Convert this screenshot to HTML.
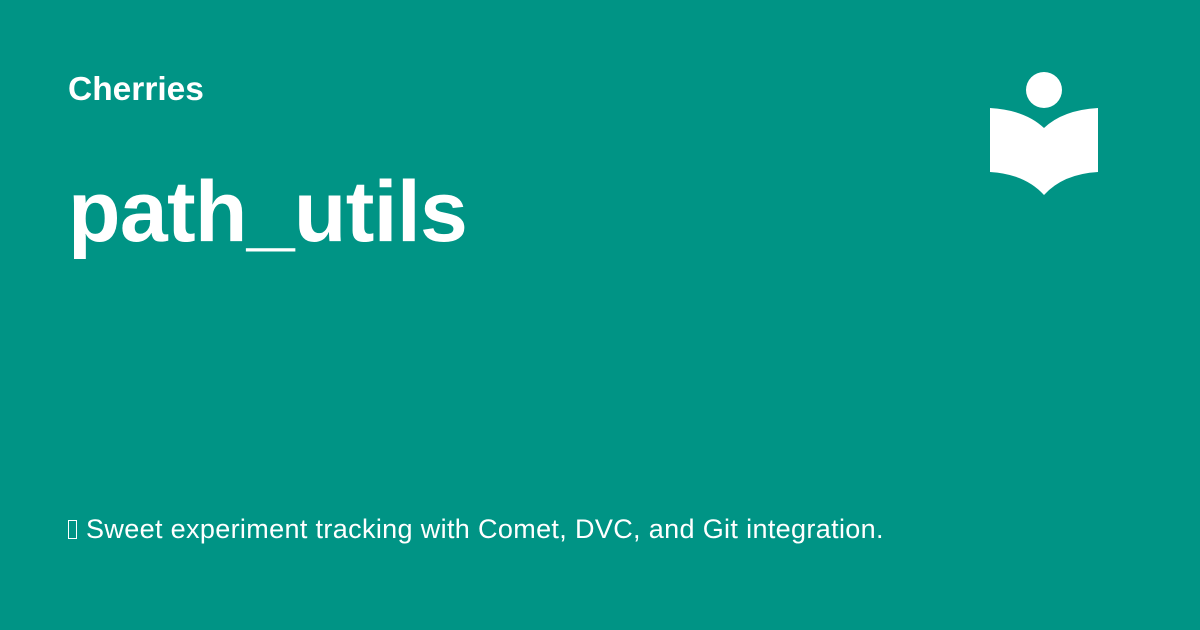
<!DOCTYPE html>
<html><head><meta charset="utf-8"><style>
html,body{margin:0;padding:0}
body{width:1200px;height:630px;background:#009485;position:relative;overflow:hidden;font-family:"Liberation Sans",Arial,sans-serif;color:#fff}
.t{position:absolute;left:68px;white-space:nowrap}
#a{top:71px;font-size:33.5px;font-weight:bold}
#b{top:163px;font-size:86px;font-weight:bold;letter-spacing:-0.7px}
#c{top:514px;font-size:27px;letter-spacing:0.35px}
.box{display:inline-block;width:9px;height:19px;border:1px solid #fff;vertical-align:-1px;margin-right:9px;box-sizing:border-box}
</style></head><body>
<div class="t" id="a">Cherries</div>
<div class="t" id="b">path_utils</div>
<div class="t" id="c"><span class="box"></span>Sweet experiment tracking with Comet, DVC, and Git integration.</div>
<svg width="1200" height="630" style="position:absolute;left:0;top:0">
<circle cx="1044" cy="90" r="18" fill="#fff"/>
<path d="M990 108 Q1025 110 1044 128 Q1063 110 1098 108 L1098 172 Q1063 174 1044 195 Q1025 174 990 172 Z" fill="#fff"/>
</svg>
</body></html>
